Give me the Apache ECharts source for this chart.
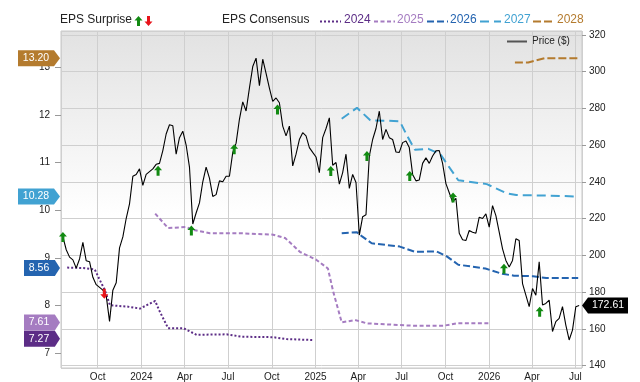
<!DOCTYPE html>
<html>
<head>
<meta charset="utf-8">
<script src="https://cdn.jsdelivr.net/npm/echarts@6/dist/echarts.min.js"></script>
<style>
  html, body { margin: 0; padding: 0; background: #fff; }
  #chart { width: 640px; height: 382px; }
</style>
</head>
<body>
<div id="chart"></div>
<script>
// weekly closing price ($), first week 2023-07-20
const priceStart = [2023, 6, 20];
const price = [210, 203, 199, 197.5, 193, 198, 207, 197, 196.5, 188, 184, 182.5, 181, 178, 164, 181,
  185, 204, 210, 220, 228, 243, 244, 247, 238, 244, 245.5, 247, 249.5, 250, 257, 266, 271, 270.5,
  255, 264, 267.5, 260, 248, 217, 223, 228.5, 240, 248, 242, 232, 233, 240.5, 240, 243, 243, 256,
  261, 274, 283.5, 278.5, 291, 302.7, 307.3, 292.3, 306.7, 299, 291, 283.8, 285.6, 283, 270.3, 265,
  270.3, 248.6, 255, 263, 266.7, 265, 258.6, 256, 253.5, 245, 264, 269, 274.8, 249, 250.5, 238.7,
  245, 255, 236.4, 244, 239.6, 211, 221, 222, 254, 263, 269, 278.4, 263, 268.5, 264, 263, 256.2,
  256, 261.3, 262.2, 258.6, 244, 240.5, 241, 250, 253, 250, 254, 256.8, 257, 250, 239, 234, 229,
  231, 212, 208.4, 208, 213.5, 212.5, 212, 220.7, 220, 222.5, 215.3, 227, 221.6, 212.6, 203.5,
  197.2, 193.6, 197.2, 209, 208, 184.6, 178.3, 172, 181.9, 178.3, 196.4, 172.9, 173.8, 175.6,
  158.5, 163.9, 165.7, 172, 162, 153.9, 159.3, 172, 172.61];
const lastPrice = 172.61;

// EPS surprises: date, price level of the marker, direction (1 beat, -1 miss)
const surpriseDates = ['2023-07-20', '2023-10-15', '2024-02-05', '2024-04-15', '2024-07-14', '2024-10-13',
  '2025-02-02', '2025-04-19', '2025-07-18', '2025-10-17', '2026-02-01', '2026-04-17'];
const surpriseLevels = [210, 179, 246, 213.5, 257.7, 279.3, 245.9, 254, 243.2, 231.5, 192.7, 169.3];
const surpriseDir = [1, -1, 1, 1, 1, 1, 1, 1, 1, 1, 1, 1];

// EPS consensus by fiscal year
const eps2024 = [['2023-07-29', 8.80], ['2023-09-01', 8.79], ['2023-09-25', 8.76], ['2023-10-04', 8.57],
  ['2023-10-16', 8.33], ['2023-10-27', 8.01], ['2023-12-04', 7.98], ['2023-12-29', 7.94], ['2024-01-30', 8.10],
  ['2024-02-07', 7.91], ['2024-02-26', 7.53], ['2024-03-29', 7.53], ['2024-04-26', 7.39], ['2024-06-28', 7.40],
  ['2024-07-30', 7.35], ['2024-10-04', 7.34], ['2024-11-01', 7.30], ['2024-12-28', 7.28]];
const eps2025 = [['2024-01-30', 9.93], ['2024-02-26', 9.63], ['2024-04-05', 9.65], ['2024-04-15', 9.60],
  ['2024-05-24', 9.52], ['2024-07-27', 9.52], ['2024-10-04', 9.49], ['2024-10-29', 9.42], ['2024-11-29', 9.13],
  ['2025-01-03', 8.96], ['2025-01-27', 8.78], ['2025-02-07', 8.30], ['2025-02-25', 7.65], ['2025-03-25', 7.70],
  ['2025-04-19', 7.63], ['2025-07-26', 7.58], ['2025-09-27', 7.58], ['2025-10-25', 7.63], ['2025-12-31', 7.63]];
const eps2026 = [['2025-02-25', 9.52], ['2025-03-29', 9.54], ['2025-04-08', 9.46], ['2025-04-29', 9.31],
  ['2025-06-27', 9.24], ['2025-07-29', 9.13], ['2025-09-12', 9.14], ['2025-10-03', 9.04], ['2025-10-28', 8.86],
  ['2025-12-24', 8.78], ['2026-01-28', 8.67], ['2026-02-22', 8.63], ['2026-04-03', 8.62], ['2026-05-01', 8.58],
  ['2026-07-07', 8.58]];
const eps2027 = [['2025-02-25', 11.92], ['2025-03-29', 12.15], ['2025-04-26', 11.89], ['2025-06-27', 11.87],
  ['2025-07-11', 11.59], ['2025-07-29', 11.27], ['2025-08-26', 11.29], ['2025-09-20', 11.18], ['2025-10-28', 10.63],
  ['2025-12-27', 10.55], ['2026-02-06', 10.36], ['2026-02-27', 10.32], ['2026-05-01', 10.31], ['2026-07-07', 10.29]];
const eps2028 = [['2026-02-24', 13.10], ['2026-03-24', 13.10], ['2026-04-27', 13.19], ['2026-07-07', 13.19]];

// current consensus tags on the left axis (text, level where the tag sits)
const tagTexts = ['13.20', '10.28', '8.56', '7.61', '7.27'];
const tagLevels = [13.19, 10.29, 8.79, 7.65, 7.31];

const years = ['2024', '2025', '2026', '2027', '2028'];
const yearColors = ['#5c2d86', '#a57cc1', '#2464b0', '#41a2d2', '#b47b2e'];
const yearDash = [[2, 2], [4, 2.5], [7, 3], [9, 5], [8, 3]];
const monthNames = ['Jan', 'Feb', 'Mar', 'Apr', 'May', 'Jun', 'Jul', 'Aug', 'Sep', 'Oct', 'Nov', 'Dec'];

const xMin = '2023-07-16';
const xMax = '2026-07-15';
const FONT = 'Liberation Sans, Arial, sans-serif';

const priceData = price.map((v, i) =>
  [new Date(priceStart[0], priceStart[1], priceStart[2] + 7 * i).getTime(), v]);

const arrowPath = 'path://M4,0L8,4.5L5.5,4.5L5.5,10L2.5,10L2.5,4.5L0,4.5Z';
const tagPathLeft = 'path://M0,0L36,0L42,8L36,16L0,16Z';
const tagPathRight = 'path://M0,8L6,0L46,0L46,16L6,16Z';

const epsSets = [eps2024, eps2025, eps2026, eps2027, eps2028];
// tag order is 2028, 2027, 2026, 2025, 2024
const tagColors = [yearColors[4], yearColors[3], yearColors[2], yearColors[1], yearColors[0]];

const chart = echarts.init(document.getElementById('chart'), null, { renderer: 'canvas' });

const epsSeries = epsSets.map((d, i) => ({
  name: years[i],
  type: 'line',
  yAxisIndex: 0,
  data: d,
  showSymbol: false,
  symbol: 'none',
  silent: true,
  lineStyle: { color: yearColors[i], width: 2, type: yearDash[i] },
  z: 3
}));

// legend built as graphics
const legend = [];
legend.push({ type: 'text', left: 60, top: 14, style: { text: 'EPS Surprise', font: '12px ' + FONT, fill: '#222' } });
function arrowPts(cx, cy, dir) {
  const p = [[0, -5], [4, -0.5], [1.5, -0.5], [1.5, 5], [-1.5, 5], [-1.5, -0.5], [-4, -0.5]];
  return p.map(q => [cx + q[0], cy + q[1] * dir]);
}
legend.push({ type: 'polygon', shape: { points: arrowPts(138.5, 21, 1) }, style: { fill: '#128a12' } });
legend.push({ type: 'polygon', shape: { points: arrowPts(148.5, 21, -1) }, style: { fill: '#e8141b' } });
legend.push({ type: 'text', left: 222, top: 14, style: { text: 'EPS Consensus', font: '12px ' + FONT, fill: '#222' } });
const sampleX = [320, 374, 427, 480, 533];
const yearTextX = [344, 397, 450, 504, 557];
years.forEach((y, i) => {
  legend.push({
    type: 'line', shape: { x1: sampleX[i], y1: 21.5, x2: sampleX[i] + 21, y2: 21.5 },
    style: { stroke: yearColors[i], lineWidth: 2, lineDash: yearDash[i] }
  });
  legend.push({ type: 'text', left: yearTextX[i], top: 14, style: { text: y, font: '12px ' + FONT, fill: yearColors[i] } });
});
legend.push({ type: 'line', shape: { x1: 507, y1: 41.5, x2: 527, y2: 41.5 }, style: { stroke: '#555', lineWidth: 2 } });
legend.push({ type: 'text', left: 532, top: 36, style: { text: 'Price ($)', font: '10px ' + FONT, fill: '#222' } });

chart.setOption({
  animation: false,
  textStyle: { fontFamily: FONT },
  grid: {
    left: 61, right: 58, top: 31, bottom: 12,
    show: true,
    borderColor: '#c9c9c9',
    borderWidth: 1,
    backgroundColor: {
      type: 'linear', x: 0, y: 0, x2: 0, y2: 1,
      colorStops: [{ offset: 0, color: '#e2e2e2' }, { offset: 0.55, color: '#ffffff' }, { offset: 1, color: '#ffffff' }]
    }
  },
  xAxis: {
    type: 'time',
    min: xMin,
    max: xMax,
    splitNumber: 12,
    axisLine: { show: false },
    axisTick: { show: false },
    splitLine: { show: true, lineStyle: { color: '#cfcfcf', width: 1 } },
    axisLabel: {
      color: '#222', fontSize: 10, margin: 4,
      showMinLabel: false, showMaxLabel: false, hideOverlap: false,
      formatter: (val) => {
        const d = new Date(val);
        return d.getMonth() === 0 ? String(d.getFullYear()) : monthNames[d.getMonth()];
      }
    }
  },
  yAxis: [
    {
      type: 'value',
      position: 'left',
      min: 6.694,
      max: 13.761,
      splitNumber: 6,
      axisLine: { show: false },
      axisTick: { show: true, length: 6, lineStyle: { color: '#999' } },
      splitLine: { show: false },
      axisLabel: { color: '#222', fontSize: 10, margin: 11, showMinLabel: false, showMaxLabel: false }
    },
    {
      type: 'value',
      position: 'right',
      min: 138.65,
      max: 322.05,
      splitNumber: 9,
      axisLine: { show: false },
      axisTick: { show: true, length: 4, lineStyle: { color: '#999' } },
      splitLine: { show: true, lineStyle: { color: '#cfcfcf', width: 1 } },
      axisLabel: { color: '#222', fontSize: 10, margin: 7, showMinLabel: false, showMaxLabel: false }
    }
  ],
  graphic: legend,
  series: [
    ...epsSeries,
    {
      name: 'Price',
      type: 'line',
      yAxisIndex: 1,
      data: priceData,
      showSymbol: false,
      symbol: 'none',
      lineStyle: { color: '#000', width: 1.1 },
      z: 4
    },
    {
      name: 'EPS Surprise',
      type: 'scatter',
      yAxisIndex: 1,
      symbol: arrowPath,
      symbolSize: [8, 10],
      z: 6,
      itemStyle: { opacity: 1 },
      data: surpriseDates.map((d, i) => ({
        value: [d, surpriseLevels[i]],
        symbolRotate: surpriseDir[i] > 0 ? 0 : 180,
        itemStyle: { color: surpriseDir[i] > 0 ? '#128a12' : '#e8141b', opacity: 1 }
      }))
    },
    {
      name: 'tags',
      type: 'scatter',
      yAxisIndex: 0,
      clip: false,
      silent: true,
      symbol: tagPathLeft,
      z: 10,
      itemStyle: { opacity: 1 },
      label: { show: true, position: 'inside', color: '#fff', fontSize: 10.5, offset: [-3, 0], formatter: p => p.name },
      data: tagTexts.map((t, i) => {
        const w = t.length > 4 ? 42 : 36;
        return {
          name: t,
          value: [xMin, tagLevels[i]],
          symbolSize: [w, 16],
          symbolOffset: [-(w / 2 + 1), 0],
          itemStyle: { color: tagColors[i], opacity: 1 }
        };
      })
    },
    {
      name: 'lastPrice',
      type: 'scatter',
      yAxisIndex: 1,
      clip: false,
      silent: true,
      symbol: tagPathRight,
      symbolSize: [46, 16],
      symbolOffset: [23, 0],
      z: 10,
      itemStyle: { opacity: 1 },
      label: { show: true, position: 'inside', color: '#fff', fontSize: 10.5, offset: [3, 0], formatter: p => p.name },
      data: [{ name: lastPrice.toFixed(2), value: [xMax, lastPrice], itemStyle: { color: '#000', opacity: 1 } }]
    }
  ]
});

window.addEventListener('resize', () => chart.resize());
</script>
</body>
</html>
